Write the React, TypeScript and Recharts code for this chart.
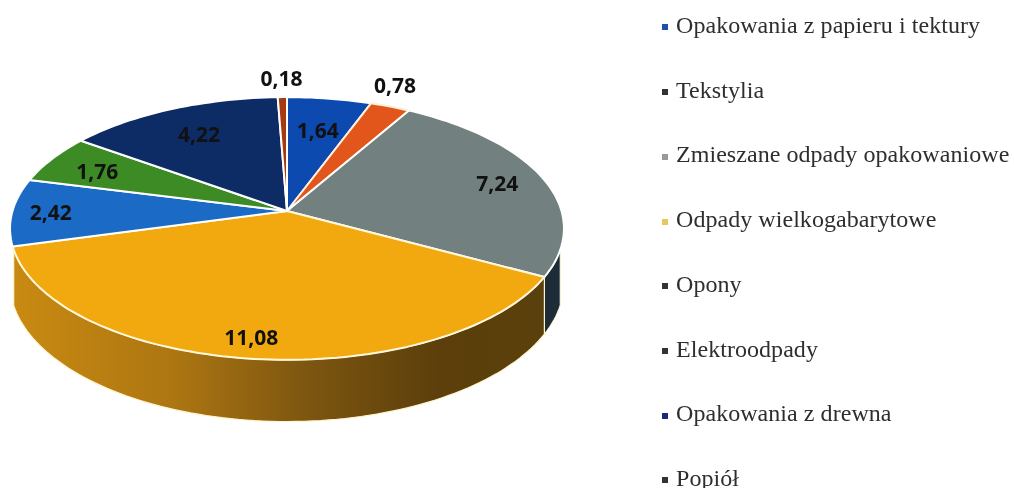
import React from "react";
import { PieChart, Pie, Legend } from "recharts";

const categories = [
  "Opakowania z papieru i tektury",
  "Tekstylia",
  "Zmieszane odpady opakowaniowe",
  "Odpady wielkogabarytowe",
  "Opony",
  "Elektroodpady",
  "Opakowania z drewna",
  "Popiół",
];
const values = [1.64, 0.78, 7.24, 11.08, 2.42, 1.76, 4.22, 0.18];
const sliceColors = ["#0c4ab0", "#e2561c", "#72817f", "#f2a90f", "#1a6ac6", "#3d8b24", "#0d2c66", "#a83a12"];
const edgeColors = ["#ffffff", "#fff0d8", "#ffffff", "#fff8dc", "#ffffff", "#ffffff", "#ffffff", "#ffffff"];
const wallColors = ["#0c3a80", "#a03c12", "#1d2c38", "url(#goldWall)", "#12508f", "#2c661a", "#0a204a", "#7a2a0d"];
const bulletColors = ["#1c4fb0", "#333333", "#9a9a9a", "#e6c860", "#333333", "#333333", "#1a2a7a", "#333333"];

// Layout of the drawing (not data): label distance from the apex as a share of the radius,
// and the label's angular nudge away from the slice's middle, in degrees.
const labelRadii = [0.7, 1.21, 0.82, 0.87, 0.86, 0.79, 0.74, 1.2];
const labelNudges = [0, -3, 0, 1, 0, -1, 0, 0];

const chartData = categories.map((name, i) => ({ name, value: values[i], fill: sliceColors[i] }));

const CX = 287;
const CY = 211;
const RADIUS = 274.5;
const SQUASH = 0.47;
const PERSPECTIVE = 0.133;
const DEPTH = 53.5;
const WALL_MIN_V = 0.27;

function project(theta: number, r = 1, cx = CX, cy = CY, radius = RADIUS) {
  const a = (theta * Math.PI) / 180;
  const u = Math.sin(a) * r;
  const v = -Math.cos(a) * r;
  const d = 1 - PERSPECTIVE * v;
  return { x: cx + (radius * u) / d, y: cy + (radius * SQUASH * v) / d, v, d };
}

function samples(start: number, end: number) {
  const n = Math.max(2, Math.ceil((end - start) / 1.5));
  const out: number[] = [];
  for (let i = 0; i <= n; i++) out.push(start + ((end - start) * i) / n);
  return out;
}

function TopSector(props: any) {
  const { startAngle, endAngle, cx, cy, outerRadius, index } = props;
  const pts = samples(90 - startAngle, 90 - endAngle).map((t) => project(t, 1, cx, cy, outerRadius));
  const d = `M${cx},${cy} ` + pts.map((p) => `L${p.x.toFixed(1)},${p.y.toFixed(1)}`).join(" ") + " Z";
  return <path d={d} fill={sliceColors[index]} stroke={edgeColors[index]} strokeWidth={2} strokeLinejoin="round" />;
}

function WallSector(props: any) {
  const { startAngle, endAngle, cx, cy, outerRadius, index } = props;
  const pts = samples(90 - startAngle, 90 - endAngle)
    .map((t) => project(t, 1, cx, cy, outerRadius))
    .filter((p) => p.v >= WALL_MIN_V);
  if (pts.length < 2) return <g />;
  const top = pts.map((p) => `${p.x.toFixed(1)},${p.y.toFixed(1)}`);
  const bottom = pts.map((p) => `${p.x.toFixed(1)},${(p.y + DEPTH / p.d).toFixed(1)}`).reverse();
  const d = "M" + top.concat(bottom).join(" L") + " Z";
  return <path d={d} fill={wallColors[index]} stroke="#fff4cc" strokeWidth={1.2} strokeLinejoin="round" />;
}

function SliceLabel(props: any) {
  const { midAngle, cx, cy, outerRadius, index } = props;
  const p = project(90 - midAngle + labelNudges[index], labelRadii[index], cx, cy, outerRadius);
  return (
    <text
      x={p.x}
      y={p.y}
      textAnchor="middle"
      dominantBaseline="central"
      fontFamily="'Open Sans', sans-serif"
      fontWeight={700}
      fontSize={21}
      fill="#111111"
    >
      {String(values[index]).replace(".", ",")}
    </text>
  );
}

function LegendList() {
  return (
    <div style={{ position: "absolute", left: 0, top: 0, width: 1014, height: 488 }}>
      {categories.map((name, i) => (
        <div
          key={name}
          style={{
            position: "absolute",
            left: 662,
            top: 25 + i * 64.7 - 15,
            height: 30,
            lineHeight: "30px",
            whiteSpace: "nowrap",
            fontFamily: "'Liberation Serif', serif",
            fontSize: 24,
            letterSpacing: 0.05,
            color: "#2e2e2e",
          }}
        >
          <span
            style={{
              display: "inline-block",
              width: 6,
              height: 6,
              background: bulletColors[i],
              marginRight: 8,
              verticalAlign: "middle",
            }}
          />
          {name}
        </div>
      ))}
    </div>
  );
}

export default function App() {
  return (
    <div style={{ position: "absolute", left: 0, top: 0, width: 1014, height: 488, overflow: "hidden", background: "#ffffff", filter: "blur(0.4px)" }}>
      <PieChart width={1014} height={488} margin={{ top: 0, right: 0, bottom: 0, left: 0 }}>
        <defs>
          <linearGradient id="goldWall" x1="0" y1="0" x2="1" y2="0">
            <stop offset="0" stopColor="#c98a12" />
            <stop offset="0.3" stopColor="#ad7612" />
            <stop offset="0.55" stopColor="#7d5610" />
            <stop offset="0.8" stopColor="#5c3f0b" />
            <stop offset="1" stopColor="#5a400c" />
          </linearGradient>
        </defs>
        <Pie
          data={chartData}
          dataKey="value"
          nameKey="name"
          cx={CX}
          cy={CY}
          innerRadius={0}
          outerRadius={RADIUS}
          startAngle={90}
          endAngle={-270}
          legendType="none"
          isAnimationActive={false}
          shape={WallSector}
          inactiveShape={WallSector}
          activeShape={WallSector}
        />
        <Pie
          data={chartData}
          dataKey="value"
          nameKey="name"
          cx={CX}
          cy={CY}
          innerRadius={0}
          outerRadius={RADIUS}
          startAngle={90}
          endAngle={-270}
          isAnimationActive={false}
          shape={TopSector}
          inactiveShape={TopSector}
          activeShape={TopSector}
          label={SliceLabel}
          labelLine={false}
        />
        <Legend content={<LegendList />} wrapperStyle={{ left: 0, top: 0, width: 1014, height: 488 }} />
      </PieChart>
    </div>
  );
}
